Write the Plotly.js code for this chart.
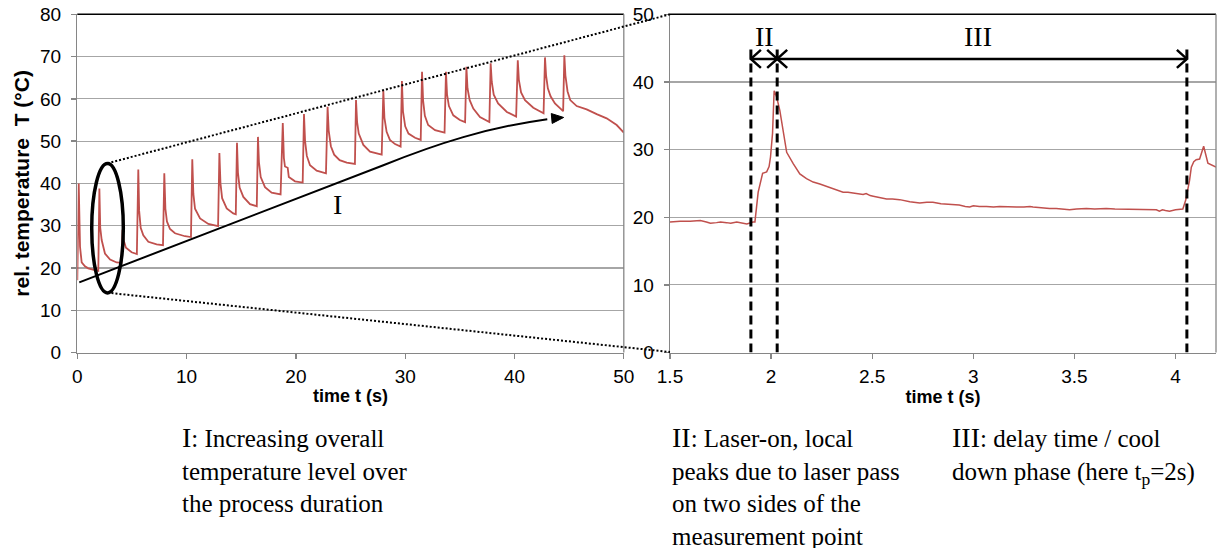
<!DOCTYPE html>
<html>
<head>
<meta charset="utf-8">
<script src="https://cdn.plot.ly/plotly-3.0.1.min.js"></script>
<style>html,body{margin:0;padding:0;background:#fff;}#chart{width:1217px;height:548px;}</style>
</head>
<body>
<div id="chart"></div>
<script>
// ---- Left panel: whole process (time in s, relative temperature in °C)
const leftTime = [0, 0.13, 0.25, 0.4, 0.7, 1.0, 1.6, 1.92, 2.02, 2.1, 2.23, 2.53, 3.0, 3.6, 4.04, 4.14, 4.25, 4.45, 4.97, 5.45,
  5.58, 5.66, 5.8, 6.04, 6.5, 7.26, 7.84, 7.96, 8.06, 8.2, 8.48, 8.94, 9.85, 10.4, 10.52, 10.62, 10.77, 11.23, 11.99, 12.88,
  13.0, 13.1, 13.25, 13.67, 14.27, 14.5, 14.61, 14.7, 14.85, 15.19, 15.8, 16.42, 16.53, 16.62, 16.78, 17.17, 17.78, 18.6,
  18.8, 18.9, 19.0, 19.25, 19.35, 19.92, 20.62, 20.74, 20.84, 21.0, 21.29, 21.9, 22.75, 22.9, 23.0, 23.2, 23.5, 24.0, 24.65,
  25.4, 25.5, 25.6, 25.75, 26.17, 26.78, 27.85, 28.0, 28.1, 28.3, 28.6, 29.07, 29.58, 29.7, 29.8, 30.0, 30.3, 30.9, 31.42,
  31.54, 31.64, 31.8, 32.1, 32.73, 33.6, 33.73, 33.83, 34.0, 34.4, 35.0, 35.48, 35.6, 35.7, 35.9, 36.23, 36.84, 37.7,
  37.82, 37.92, 38.1, 38.5, 39.3, 40.15, 40.3, 40.4, 40.6, 40.96, 41.72, 42.66, 42.79, 42.89, 43.05, 43.3, 43.7, 44.45,
  44.56, 44.66, 44.85, 45.1, 45.69, 46.6, 47.52, 48.43, 49.35, 50.0];
const leftTemp = [17.1, 40.0, 25.0, 21.3, 20.4, 19.9, 19.5, 19.3, 38.8, 29.5, 26.6, 23.4, 22.0, 21.3, 21.2, 29.0, 26.5, 24.8, 23.7, 23.3,
  43.3, 33.5, 29.5, 27.7, 26.2, 25.6, 25.4, 42.4, 34.0, 31.0, 29.2, 28.2, 27.5, 27.3, 45.7, 37.5, 34.0, 31.7, 30.4, 29.9,
  47.2, 40.0, 36.5, 34.1, 32.9, 32.7, 49.6, 42.5, 39.0, 36.8, 35.1, 34.6, 51.0, 45.0, 41.5, 39.1, 37.8, 37.4,
  54.3, 46.0, 44.0, 43.7, 41.5, 40.5, 40.2, 56.4, 50.0, 46.5, 44.3, 43.0, 42.4, 58.1, 52.5, 48.8, 46.8, 45.5, 44.9,
  44.6, 59.7, 54.5, 51.8, 49.1, 47.5, 46.8, 61.9, 55.5, 52.2, 50.3, 49.3, 48.7, 64.2, 57.0, 53.5, 51.8, 50.8, 50.3,
  66.4, 59.5, 56.0, 53.8, 52.6, 52.0, 66.4, 61.0, 58.3, 56.1, 55.0, 54.5, 67.6, 62.5, 59.7, 57.7, 55.7, 54.5,
  68.4, 64.0, 61.0, 58.9, 56.9, 55.8, 69.1, 64.5, 61.5, 59.7, 57.9, 56.6, 69.8, 65.5, 62.5, 60.6, 58.9, 57.1,
  70.3, 65.5, 61.8, 59.7, 58.3, 57.5, 56.4, 55.4, 53.8, 52.0];

// ---- Right panel: one cycle in detail
const rightTime = [1.5, 1.53, 1.55, 1.6, 1.65, 1.68, 1.70, 1.73, 1.75, 1.78, 1.80, 1.83, 1.86, 1.88, 1.91, 1.92, 1.936, 1.958, 1.978,
  1.99, 1.997, 2.007, 2.015, 2.027, 2.043, 2.06, 2.077, 2.11, 2.142, 2.175, 2.208, 2.241, 2.27, 2.307, 2.33, 2.356, 2.38,
  2.406, 2.43, 2.455, 2.47, 2.49, 2.505, 2.54, 2.571, 2.6, 2.636, 2.686, 2.735, 2.77, 2.80, 2.84, 2.883, 2.93, 2.96, 2.982,
  3.0, 3.03, 3.065, 3.1, 3.13, 3.17, 3.213, 3.25, 3.28, 3.295, 3.33, 3.377, 3.41, 3.45, 3.476, 3.51, 3.559, 3.6, 3.657,
  3.7, 3.75, 3.789, 3.84, 3.89, 3.905, 3.92, 3.935, 3.95, 3.97, 4.0, 4.036, 4.05, 4.069, 4.078, 4.09, 4.102, 4.119, 4.139,
  4.16, 4.2];
const rightTemp = [19.3, 19.4, 19.4, 19.4, 19.5, 19.3, 19.1, 19.2, 19.3, 19.2, 19.1, 19.3, 19.1, 19.0, 19.3, 19.3, 23.7, 26.5, 26.7,
  27.5, 28.9, 32.4, 38.7, 37.8, 35.8, 32.5, 29.6, 27.9, 26.4, 25.7, 25.2, 24.9, 24.6, 24.2, 23.9, 23.7, 23.7,
  23.55, 23.4, 23.36, 23.5, 23.2, 23.1, 22.9, 22.7, 22.7, 22.6, 22.3, 22.1, 22.2, 22.2, 22.0, 21.9, 21.8, 21.6, 21.5,
  21.7, 21.6, 21.6, 21.5, 21.6, 21.5, 21.5, 21.5, 21.6, 21.5, 21.4, 21.3, 21.3, 21.2, 21.1, 21.2, 21.3, 21.2, 21.3,
  21.2, 21.2, 21.2, 21.2, 21.2, 21.1, 20.9, 21.1, 21.0, 20.9, 21.1, 21.2, 22.5, 25.4, 27.4, 28.2, 28.5, 28.6, 30.5,
  28.0, 27.4];

// ---- Tick labels
const leftXTicks = [0, 10, 20, 30, 40, 50];
const leftYTicks = [0, 10, 20, 30, 40, 50, 60, 70, 80];
const rightXTicks = [1.5, 2, 2.5, 3, 3.5, 4];
const rightXLabels = ['1.5', '2', '2.5', '3', '3.5', '4'];
const rightYTicks = [0, 10, 20, 30, 40, 50];

// ---- Phase markers (s) and texts
const phaseBounds = [1.9, 2.03, 4.056];
const xTitle = 'time t (s)';
const yTitle = 'rel. temperature\u00a0 T (°C)';
const noteI = '<span style="font-size:28px">I</span>: Increasing overall<br>temperature level over<br>the process duration';
const noteII = '<span style="font-size:28px">II</span>: Laser-on, local<br>peaks due to laser pass<br>on two sides of the<br>measurement point';
const noteIII = '<span style="font-size:28px">III</span>: delay time / cool<br>down phase (here t<sub>p</sub>=2s)';

const W = 1217, H = 548;
const px = v => v / W, py = v => 1 - v / H;
const sans = 'Liberation Sans, Arial, sans-serif';
const serif = 'Liberation Serif, Times New Roman, serif';
const red = '#c0504d';
const gridC = '#a6a6a6', axC = '#868686';

const axisBase = {
  showline: true, linecolor: axC, linewidth: 1.3,
  ticks: 'outside', ticklen: 5, tickcolor: axC, tickwidth: 1.3,
  tickfont: {family: sans, size: 19, color: '#000'},
  zeroline: false, fixedrange: true
};

const traces = [
  {x: leftTime, y: leftTemp, type: 'scatter', mode: 'lines', line: {color: red, width: 1.8}, xaxis: 'x', yaxis: 'y', hoverinfo: 'skip'},
  {x: rightTime, y: rightTemp, type: 'scatter', mode: 'lines', line: {color: red, width: 1.5}, xaxis: 'x2', yaxis: 'y2', hoverinfo: 'skip'}
];

const ydom = [py(352.5), py(14.3)];
const titleFont = {family: sans, size: 18, weight: 'bold', color: '#000'};

// chevron helpers (pixel-sized paths anchored at data points)
const chevron = (xa, ya, dir) => ({
  type: 'path', xref: 'x2', yref: 'y2', xsizemode: 'pixel', ysizemode: 'pixel', xanchor: xa, yanchor: ya,
  path: dir > 0 ? 'M -10,9 L 0,0 L -10,-9' : 'M 10,9 L 0,0 L 10,-9',
  line: {color: '#000', width: 2.5}, fillcolor: 'rgba(0,0,0,0)'
});
const vDash = xv => ({type: 'line', xref: 'x2', yref: 'y2', x0: xv, x1: xv, y0: 0, y1: 45, line: {color: '#000', width: 3, dash: '9px,5px'}});

const layout = {
  width: W, height: H, margin: {l: 0, r: 0, t: 0, b: 0},
  paper_bgcolor: '#fff', plot_bgcolor: '#fff', showlegend: false,
  xaxis: Object.assign({}, axisBase, {domain: [px(77.3), px(623.8)], range: [0, 50], tickvals: leftXTicks, showgrid: false,
    ticklabelstandoff: 1,
    title: {text: xTitle, font: titleFont, standoff: 3}, anchor: 'y'}),
  yaxis: Object.assign({}, axisBase, {domain: ydom, range: [0, 80], tickvals: leftYTicks, showgrid: true, gridcolor: gridC, gridwidth: 1.2,
    ticklabelstandoff: 6,
    title: {text: yTitle, font: {family: sans, size: 21, weight: 'bold', color: '#000'}, standoff: 4}, anchor: 'x'}),
  xaxis2: Object.assign({}, axisBase, {domain: [px(670), px(1216)], range: [1.5, 4.2], tickvals: rightXTicks, ticktext: rightXLabels, showgrid: false,
    ticklabelstandoff: 1,
    title: {text: xTitle, font: titleFont, standoff: 3}, anchor: 'y2'}),
  yaxis2: Object.assign({}, axisBase, {domain: ydom, range: [0, 50], tickvals: rightYTicks, showgrid: true, gridcolor: gridC, gridwidth: 1.2,
    ticklabelstandoff: 6, anchor: 'x2'}),
  shapes: [
    // plot-area frames (top black, right grey)
    {type: 'line', xref: 'x domain', yref: 'y domain', x0: 0, x1: 1, y0: 1, y1: 1, line: {color: '#000', width: 1.5}},
    {type: 'line', xref: 'x domain', yref: 'y domain', x0: 1, x1: 1, y0: 0, y1: 1, line: {color: axC, width: 1.3}},
    {type: 'line', xref: 'x2 domain', yref: 'y2 domain', x0: 0, x1: 1, y0: 1, y1: 1, line: {color: '#000', width: 1.5}},
    {type: 'line', xref: 'x2 domain', yref: 'y2 domain', x0: 1, x1: 1, y0: 0, y1: 1, line: {color: axC, width: 1.3}},
    // ellipse around the second cycle
    {type: 'circle', xref: 'x', yref: 'y', x0: 1.32, x1: 4.21, y0: 14.1, y1: 44.7, line: {color: '#000', width: 3.5}},
    // zoom connector lines
    {type: 'line', xref: 'paper', yref: 'paper', x0: px(107.5), y0: py(163.3), x1: px(670), y1: py(14.3), line: {color: '#000', width: 2, dash: '2px,2px'}},
    {type: 'line', xref: 'paper', yref: 'paper', x0: px(107.5), y0: py(292.7), x1: px(670), y1: py(352), line: {color: '#000', width: 2, dash: '2px,2px'}},
    // trend arrow (curved body + filled head)
    {type: 'path', xref: 'x', yref: 'y', path: 'M 0.18,16.6 L 28,44.3 C 33,49.5 37.5,53.2 43,55.2', line: {color: '#000', width: 2}},
    {type: 'path', xref: 'x', yref: 'y', xsizemode: 'pixel', ysizemode: 'pixel', xanchor: 44.5, yanchor: 55.6,
      path: 'M 0,0 L -12.4,3.9 L -11.5,-6.0 Z', line: {color: '#000', width: 1}, fillcolor: '#000'},
    // phase boundaries
    vDash(phaseBounds[0]), vDash(phaseBounds[1]), vDash(phaseBounds[2]),
    // phase II / III double arrows
    {type: 'line', xref: 'x2', yref: 'y2', x0: phaseBounds[0], x1: phaseBounds[1], y0: 43.4, y1: 43.4, line: {color: '#000', width: 2.5}},
    {type: 'line', xref: 'x2', yref: 'y2', x0: phaseBounds[1], x1: phaseBounds[2], y0: 43.4, y1: 43.4, line: {color: '#000', width: 2.5}},
    chevron(phaseBounds[0], 43.4, -1), chevron(phaseBounds[1], 43.4, 1),
    chevron(phaseBounds[1], 43.4, -1), chevron(phaseBounds[2], 43.4, 1)
  ],
  annotations: [
    {xref: 'x', yref: 'y', x: 23.76, y: 34.9, text: 'I', showarrow: false, font: {family: serif, size: 28, color: '#000'}},
    {xref: 'x2', yref: 'y2', x: 1.965, y: 46.7, text: 'II', showarrow: false, font: {family: serif, size: 28, color: '#000'}},
    {xref: 'x2', yref: 'y2', x: 3.023, y: 46.7, text: 'III', showarrow: false, font: {family: serif, size: 28, color: '#000'}},
    // explanatory notes below the charts
    {xref: 'paper', yref: 'paper', x: px(181), y: py(421), xanchor: 'left', yanchor: 'top', align: 'left', showarrow: false, borderpad: 0,
      text: noteI, font: {family: serif, size: 25, color: '#000'}},
    {xref: 'paper', yref: 'paper', x: px(671), y: py(421), xanchor: 'left', yanchor: 'top', align: 'left', showarrow: false, borderpad: 0,
      text: noteII, font: {family: serif, size: 25, color: '#000'}},
    {xref: 'paper', yref: 'paper', x: px(951), y: py(421), xanchor: 'left', yanchor: 'top', align: 'left', showarrow: false, borderpad: 0,
      text: noteIII, font: {family: serif, size: 25, color: '#000'}}
  ]
};

Plotly.newPlot('chart', traces, layout, {staticPlot: true, displayModeBar: false});
</script>
</body>
</html>
